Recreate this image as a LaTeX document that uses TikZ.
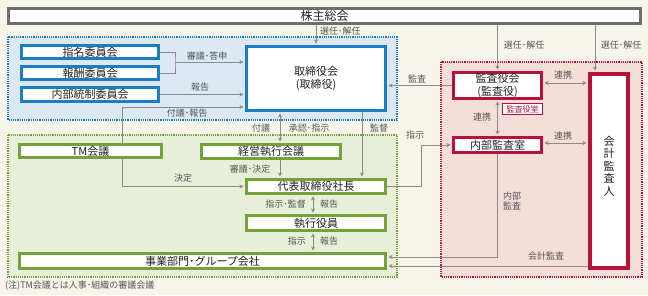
\documentclass[tikz,border=0pt]{standalone}
\usepackage{fontspec}
\setmainfont{Noto Sans CJK JP}
\usetikzlibrary{arrows.meta}
\definecolor{bgc}{HTML}{F7F5EA}
\definecolor{bluefill}{HTML}{DCE8F4}
\definecolor{blueline}{HTML}{1B7DC2}
\definecolor{greenfill}{HTML}{E8EFD9}
\definecolor{greenline}{HTML}{74A13C}
\definecolor{redfill}{HTML}{F5DDD8}
\definecolor{redline}{HTML}{B8123C}
\definecolor{grayline}{HTML}{6E6E6E}
\definecolor{arrowc}{HTML}{8A8A8A}
\definecolor{txt}{HTML}{222222}
\definecolor{lblc}{HTML}{555555}
\newcommand\myfs[1]{\fontsize{#1}{#1}\selectfont}
\pgfdeclarelayer{regions}
\pgfdeclarelayer{conn}
\pgfsetlayers{regions,conn,main}
\tikzset{
  boxbase/.style={fill=white, inner sep=0pt, font=\myfs{11}, text=txt, align=center},
  boxb/.style={boxbase, draw=blueline, line width=3pt},
  boxg/.style={boxbase, draw=greenline, line width=3pt},
  boxr/.style={boxbase, draw=redline, line width=3pt},
  boxk/.style={boxbase, draw=grayline, line width=2.5pt},
  lbl/.style={font=\myfs{9}, text=lblc, inner sep=1pt, align=center},
  ln/.style={draw=arrowc, line width=0.8pt},
  arr/.style={ln, -{Stealth[length=4pt,width=4pt]}, shorten >=1.5pt},
  darr/.style={ln, {Stealth[length=4pt,width=4pt]}-{Stealth[length=4pt,width=4pt]}, shorten >=1.5pt, shorten <=1.5pt},
  region/.style={line width=1.2pt, densely dotted}
}
\begin{document}
\begin{tikzpicture}[x=1pt,y=-1pt]
\useasboundingbox (0,0) rectangle (648,295);
\begin{pgfonlayer}{regions}
\fill[bgc] (0,0) rectangle (648,295);
\filldraw[region, fill=bluefill, draw=blueline] (8,37) rectangle (397,120);
\filldraw[region, fill=greenfill, draw=greenline] (8,135) rectangle (397,277);
\filldraw[region, fill=redfill, draw=redline] (441,62) rectangle (642,277);
\end{pgfonlayer}

% nodes
\node[boxk, minimum width=632pt, minimum height=15pt, font=\myfs{12}] (kabu) at (324.5,16) {株主総会};
\node[boxb, minimum width=137pt, minimum height=13pt] (shimei) at (90,52) {指名委員会};
\node[boxb, minimum width=137pt, minimum height=13pt] (hoshu) at (90,73) {報酬委員会};
\node[boxb, minimum width=137pt, minimum height=14pt] (naibu) at (90,94.5) {内部統制委員会};
\node[boxb, minimum width=139pt, minimum height=64pt, font=\fontsize{11}{13}\selectfont] (tori) at (316,78.5) {取締役会\\(取締役)};
\node[boxg, minimum width=142pt, minimum height=13pt] (tm) at (90.5,151) {TM会議};
\node[boxg, minimum width=139pt, minimum height=14pt] (keiei) at (271,151.5) {経営執行会議};
\node[boxg, minimum width=139pt, minimum height=14pt] (daihyo) at (316,186.5) {代表取締役社長};
\node[boxg, minimum width=139pt, minimum height=15pt] (shikko) at (316,223) {執行役員};
\node[boxg, minimum width=366pt, minimum height=15pt] (jigyo) at (202.5,261) {事業部門･グループ会社};
\node[boxr, minimum width=88pt, minimum height=26pt, font=\fontsize{11}{12.5}\selectfont] (kansa) at (497.5,85.5) {監査役会\\(監査役)};
\node[draw=redline, line width=0.6pt, fill=white, text=redline, font=\myfs{8}, inner sep=0pt, minimum width=40pt, minimum height=11pt] (kshitsu) at (522.5,109) {監査役室};
\node[boxr, minimum width=88pt, minimum height=15pt] (naikan) at (497.5,145) {内部監査室};
\node[boxr, line width=4pt, minimum width=38pt, minimum height=194pt] (kaikei) at (609,171) {};
\node[font=\fontsize{11}{12.5}\selectfont, text=txt, align=center, inner sep=0pt] (kaikeit) at (609,166) {会\\計\\監\\査\\人};
\node[anchor=west, font=\myfs{9}, text=lblc, inner sep=0pt] (note) at (5,286) {(注)TM会議とは人事･組織の審議会議};

\coordinate (k3) at (595,0);
\coordinate (br) at (175,62);
\coordinate (fg) at (122,107);
\coordinate (x280) at (280,0);
\coordinate (x362) at (362,0);
\coordinate (x313) at (313,0);
\coordinate (kt) at (122,186.5);
\coordinate (sj) at (421,0);
\coordinate (nk) at (498,257);
\coordinate (ka) at (600,266);
\coordinate (r1) at (0,83);
\coordinate (r2) at (0,143);

\begin{pgfonlayer}{conn}
\draw[arr] (tori.north |- kabu.south) -- (tori.north);
\draw[arr] (kansa.north |- kabu.south) -- (kansa.north);
\draw[arr] (kabu.south -| k3) -- (kaikei.north -| k3);
\draw[ln] (shimei.east) -| (br) |- (hoshu.east);
\draw[arr] (br) -- (tori.west |- br);
\draw[arr] (naibu.east) -- (tori.west |- naibu.east);
\draw[arr] (tm.north -| fg) -- (fg) -- (tori.west |- fg);
\draw[darr] (tori.south -| x280) -- (keiei.north -| x280);
\draw[arr] (tori.south -| x362) -- (daihyo.north -| x362);
\draw[arr] (keiei.south -| x280) -- (daihyo.north -| x280);
\draw[arr] (tm.south -| kt) -- (kt) -- (daihyo.west);
\draw[darr] (daihyo.south -| x313) -- (shikko.north -| x313);
\draw[darr] (shikko.south -| x313) -- (jigyo.north -| x313);
\draw[arr] (kansa.west) -- (tori.east |- kansa.west);
\draw[arr] (daihyo.east) -- (daihyo.east -| sj) |- (naikan.west);
\draw[arr] (naikan.south) -- (naikan.south |- nk) -- (jigyo.east |- nk);
\draw[arr] (kaikei.west |- ka) -- (jigyo.east |- ka);
\draw[darr] (kansa.east |- r1) -- (kaikei.west |- r1);
\draw[darr] (naikan.east |- r2) -- (kaikei.west |- r2);
\draw[darr] (kansa.south) -- (naikan.north);
\end{pgfonlayer}

% labels
\node[lbl, anchor=west] at (319,31) {選任･解任};
\node[lbl] at (524,45) {選任･解任};
\node[lbl] at (621,45) {選任･解任};
\node[lbl] at (207,56) {審議･答申};
\node[lbl] at (200,87) {報告};
\node[lbl] at (187,113) {付議･報告};
\node[lbl] at (261,128) {付議};
\node[lbl] at (309,128) {承認･指示};
\node[lbl] at (379,128) {監督};
\node[lbl] at (250,169) {審議･決定};
\node[lbl] at (183,178) {決定};
\node[lbl, anchor=east] at (307,204.5) {指示･監督};
\node[lbl, anchor=west] at (319,204.5) {報告};
\node[lbl, anchor=east] at (307,241) {指示};
\node[lbl, anchor=west] at (319,241) {報告};
\node[lbl] at (417,79) {監査};
\node[lbl] at (415,135) {指示};
\node[lbl] at (563,75) {連携};
\node[lbl] at (563,136) {連携};
\node[lbl] at (482,117) {連携};
\node[lbl, font=\fontsize{9}{9.5}\selectfont] at (512,201) {内部\\監査};
\node[lbl] at (546,256) {会計監査};
\end{tikzpicture}
\end{document}
